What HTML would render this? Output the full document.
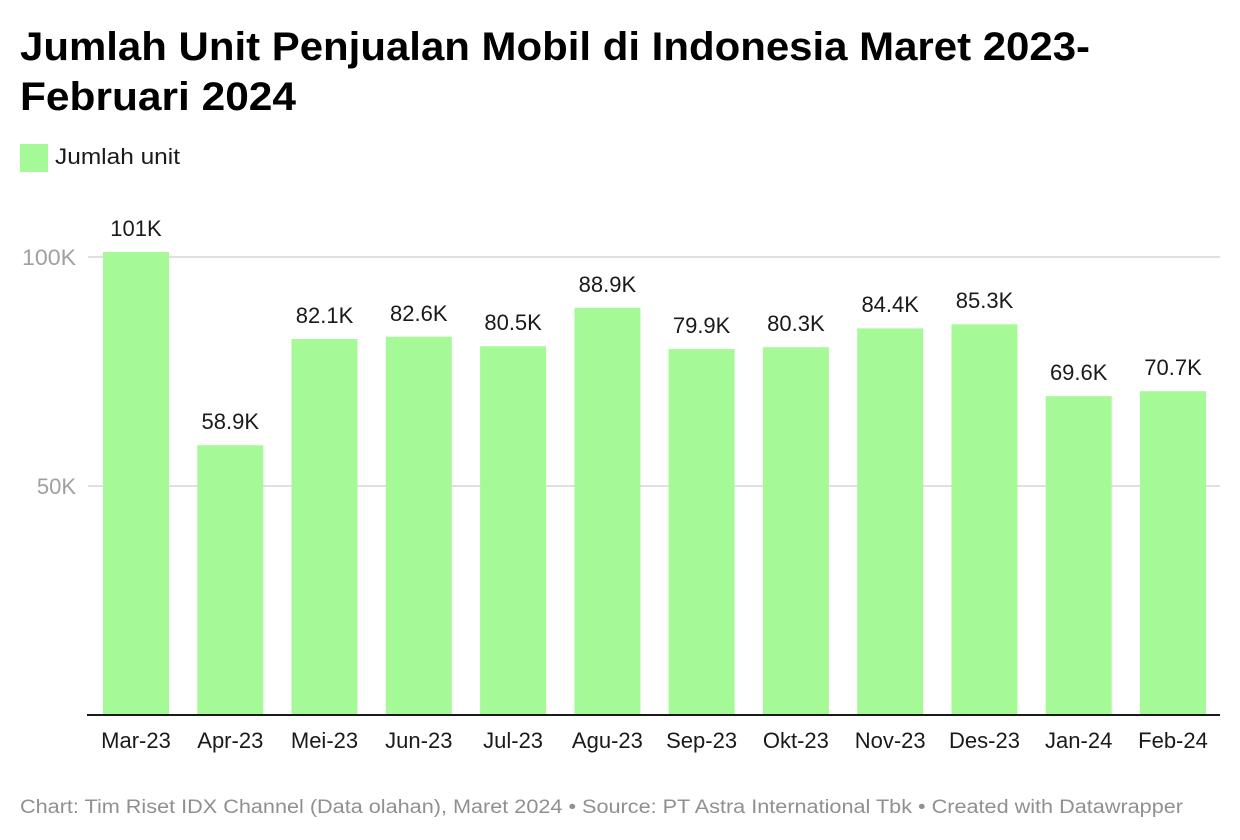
<!DOCTYPE html>
<html><head><meta charset="utf-8"><style>
body{margin:0;background:#fff;}
svg{display:block;font-family:"Liberation Sans",Arial,sans-serif;}
</style></head><body>
<svg width="1240" height="840" viewBox="0 0 1240 840" xmlns="http://www.w3.org/2000/svg">
<rect width="1240" height="840" fill="#fff"/>
<text x="20" y="60" font-size="40" font-weight="bold" fill="#000" textLength="1070" lengthAdjust="spacingAndGlyphs">Jumlah Unit Penjualan Mobil di Indonesia Maret 2023-</text>
<text x="20" y="110" font-size="40" font-weight="bold" fill="#000" textLength="276" lengthAdjust="spacingAndGlyphs">Februari 2024</text>
<rect x="20" y="144" width="28" height="28" fill="#a5f996"/>
<text x="55" y="164" font-size="22" fill="#1a1a1a" textLength="125" lengthAdjust="spacingAndGlyphs">Jumlah unit</text>
<line x1="88" y1="257" x2="1220" y2="257" stroke="#e0e0e0" stroke-width="2"/>
<line x1="88" y1="486" x2="1220" y2="486" stroke="#e0e0e0" stroke-width="2"/>
<text x="76" y="265" font-size="22" fill="#a0a0a0" text-anchor="end" textLength="54" lengthAdjust="spacingAndGlyphs">100K</text>
<text x="76" y="494" font-size="22" fill="#a0a0a0" text-anchor="end">50K</text>
<g fill="#a5f996">
<rect x="103" y="252" width="66" height="463"/>
<rect x="197.3" y="445.2" width="66" height="269.8"/>
<rect x="291.5" y="339" width="66" height="376"/>
<rect x="385.8" y="336.7" width="66" height="378.3"/>
<rect x="480.1" y="346.3" width="66" height="368.7"/>
<rect x="574.4" y="307.8" width="66" height="407.2"/>
<rect x="668.6" y="349.1" width="66" height="365.9"/>
<rect x="762.9" y="347.2" width="66" height="367.8"/>
<rect x="857.2" y="328.4" width="66" height="386.6"/>
<rect x="951.5" y="324.3" width="66" height="390.7"/>
<rect x="1045.7" y="396.2" width="66" height="318.8"/>
<rect x="1140" y="391.2" width="66" height="323.8"/>
</g>
<line x1="87" y1="715" x2="1220" y2="715" stroke="#1a1a1a" stroke-width="2"/>
<g font-size="22" fill="#1a1a1a" text-anchor="middle">
<text x="136" y="236">101K</text>
<text x="230.3" y="429">58.9K</text>
<text x="324.5" y="323">82.1K</text>
<text x="418.8" y="321">82.6K</text>
<text x="513.1" y="330">80.5K</text>
<text x="607.4" y="292">88.9K</text>
<text x="701.6" y="333">79.9K</text>
<text x="795.9" y="331">80.3K</text>
<text x="890.2" y="312">84.4K</text>
<text x="984.5" y="308">85.3K</text>
<text x="1078.7" y="380">69.6K</text>
<text x="1173" y="375">70.7K</text>
</g>
<g font-size="22" fill="#1a1a1a" text-anchor="middle">
<text x="136" y="748">Mar-23</text>
<text x="230.3" y="748">Apr-23</text>
<text x="324.5" y="748">Mei-23</text>
<text x="418.8" y="748">Jun-23</text>
<text x="513.1" y="748">Jul-23</text>
<text x="607.4" y="748">Agu-23</text>
<text x="701.6" y="748">Sep-23</text>
<text x="795.9" y="748">Okt-23</text>
<text x="890.2" y="748">Nov-23</text>
<text x="984.5" y="748">Des-23</text>
<text x="1078.7" y="748">Jan-24</text>
<text x="1173" y="748">Feb-24</text>
</g>
<text x="20" y="813" font-size="19" fill="#909090" textLength="1163" lengthAdjust="spacingAndGlyphs">Chart: Tim Riset IDX Channel (Data olahan), Maret 2024 • Source: PT Astra International Tbk • Created with Datawrapper</text>
</svg>
</body></html>
